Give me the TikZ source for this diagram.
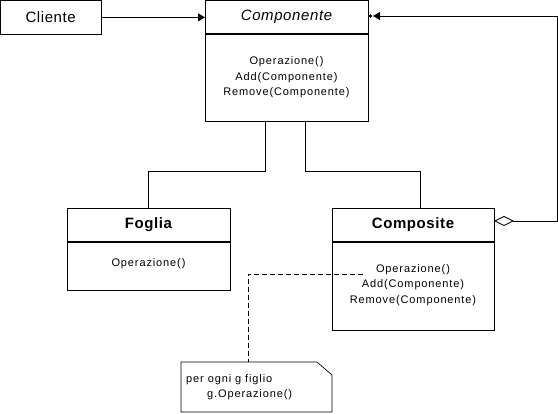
\documentclass[tikz,border=0pt]{standalone}
\usepackage{fontspec}
\setmainfont{Liberation Sans}
\newfontfamily\mfont[LetterSpace=8]{Liberation Sans}
\newfontfamily\tfont[LetterSpace=4]{Liberation Sans}
\usetikzlibrary{calc,arrows.meta}
\tikzset{
  box/.style={draw, line width=0.8pt, anchor=north west, inner sep=0pt, outer sep=0pt},
  sepline/.style={line width=1.8pt},
  title/.style={font=\tfont\fontsize{15}{18}\selectfont, inner sep=0pt},
  meth/.style={font=\mfont\fontsize{11}{15.5}\selectfont, align=center, inner sep=0pt},
  conn/.style={line width=0.8pt},
  head/.style={-{Triangle[length=7pt,width=8pt]}},
  notedash/.style={line width=0.7pt, dash pattern=on 5pt off 3pt}
}
\begin{document}
\begin{tikzpicture}[x=1pt,y=-1pt]
\useasboundingbox (0,0) rectangle (558,414);
% Cliente
\node[box, minimum width=100.5pt, minimum height=34pt] (cli) at (0.4,0.4) {};
\node[title] (clit) at (cli.center) {Cliente};
% Componente
\node[box, minimum width=163pt, minimum height=121pt] (comp) at (205,0.4) {};
\node[title, font=\tfont\itshape\fontsize{15}{18}\selectfont] (compt) at (286.5,17) {Componente};
\draw[sepline] (205,34) -- (368,34);
\node[meth] (compm) at (286.5,77.5) {Operazione()\\Add(Componente)\\Remove(Componente)};
% Foglia
\node[box, minimum width=163pt, minimum height=82pt] (fog) at (67,208) {};
\node[title, font=\tfont\bfseries\fontsize{15}{18}\selectfont] (fogt) at (148.5,225) {Foglia};
\draw[sepline] (67,242) -- (230,242);
\node[meth] (fogm) at (148.5,264) {Operazione()};
% Composite
\node[box, minimum width=162pt, minimum height=122pt] (cmp) at (332,208) {};
\node[title, font=\tfont\bfseries\fontsize{15}{18}\selectfont] (cmpt) at (413,225) {Composite};
\draw[sepline] (332,242) -- (494,242);
\node[meth] (cmpm) at (413,285) {Operazione()\\Add(Componente)\\Remove(Componente)};
% Note
\draw[conn, line width=0.7pt] (181,362) -- (317,362) -- (332,375) -- (332,412) -- (181,412) -- cycle;
\coordinate (notetop) at (248,362);
\node[meth, anchor=west] (n1) at (186,380) {per ogni g figlio};
\node[meth, anchor=west] (n2) at (207,395) {g.Operazione()};
\coordinate (dstart) at (363,274);
\draw[notedash] (dstart) -- (248,274) -- (notetop);
% Cliente -> Componente
\draw[conn, head] (cli.east) -- (cli.east -| comp.west);
% generalization lines
\draw[conn] ($(comp.south west)+(60,0)$) |- ($(fog.north)+(0,-37)$) -- (fog.north);
\draw[conn] ($(comp.south west)+(100,0)$) |- ($(cmp.north west)+(88,-37)$) -- ($(cmp.north west)+(88,0)$);
% aggregation
\coordinate (dg) at (494,221);
\coordinate (rb) at (557,221);
\coordinate (rt) at (557,16);
\coordinate (tip) at (373,16);
\draw[conn, {Diamond[open,length=20pt,width=10pt]}-{Triangle[length=7pt,width=8pt]}] (dg) -- (rb) -- (rt) -- (tip);
\fill (370.5,16) circle (1.8pt);
\end{tikzpicture}
\end{document}
